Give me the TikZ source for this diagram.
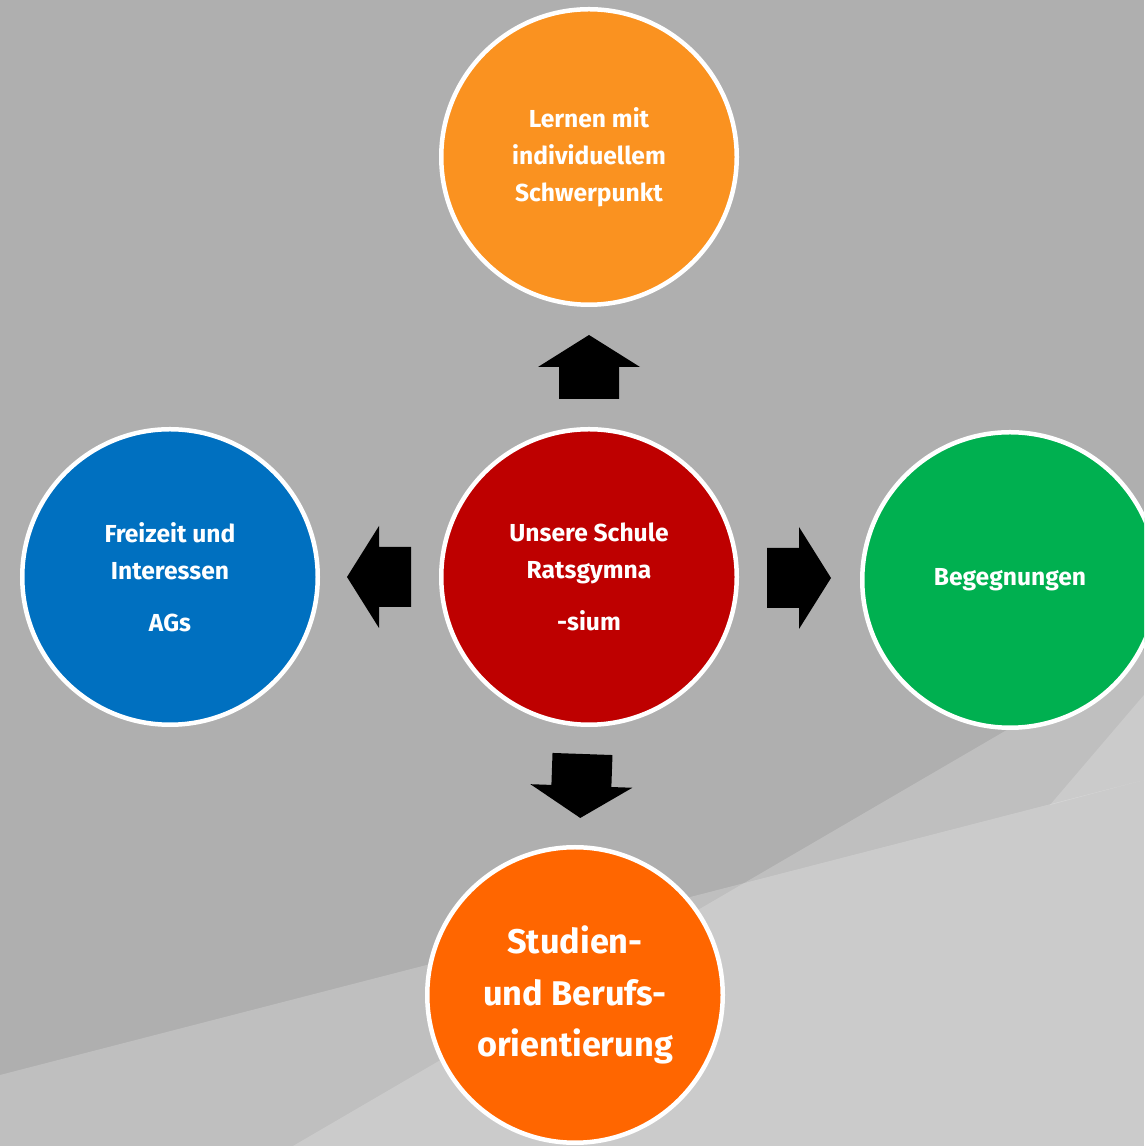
\documentclass[tikz,border=0pt]{standalone}
\usepackage{fontspec}
\setmainfont{Fira Sans}
\usepackage{tikz}
\usetikzlibrary{calc}
\definecolor{bggray}{HTML}{AFAFAF}
\definecolor{lernorange}{HTML}{FA9220}
\definecolor{schulrot}{HTML}{BE0000}
\definecolor{freiblau}{HTML}{0070C0}
\definecolor{beggruen}{HTML}{00B050}
\definecolor{studorange}{HTML}{FF6600}
\tikzset{
	bubble/.style={circle, draw=white, line width=0.09cm, minimum size=5.91cm, inner sep=0pt, text=white, align=center, font=\bfseries\fontsize{14}{21}\selectfont},
	bigbubble/.style={bubble, font=\bfseries\fontsize{19.5}{29.5}\selectfont}
}
\tikzstyle{lighter}=[fill=white, opacity=0.2]
\newcommand{\blockArrow}[2]{
	\fill[black, shift={#1}, rotate=#2] (0,-0.6) -- (0.64,-0.6) -- (0.64,-1.02) -- (1.28,0) -- (0.64,1.02) -- (0.64,0.6) -- (0,0.6) -- cycle;
}

\begin{document}
\begin{tikzpicture}
	\clip (0,0) rectangle (22.88,22.92);
	\fill[bggray] (0,0) rectangle (22.88,22.92);
	\fill[lighter] (0,1.42) -- (22.88,7.32) -- (22.88,0) -- (0,0) -- cycle;
	\fill[lighter] (5.86,0) -- (22.88,9.92) -- (22.88,0) -- cycle;
	\fill[lighter] (21.0,6.82) -- (22.88,9.02) -- (22.88,7.32) -- cycle;

	\node[bubble, fill=schulrot] (ctr) at (11.78,11.38) {Unsere Schule\\Ratsgymna\\[0.3cm]-sium};
	\node[bubble, fill=lernorange] (lernen) at (11.78,19.78) {Lernen mit\\individuellem\\Schwerpunkt};
	\node[bubble, fill=freiblau] (freizeit) at (3.40,11.38) {Freizeit und\\Interessen\\[0.3cm]AGs};
	\node[bubble, fill=beggruen] (begegnung) at (20.20,11.32) {Begegnungen};
	\node[bigbubble, fill=studorange] (studien) at (11.50,3.02) {Studien-\\und Berufs-\\orientierung};

	\blockArrow{($(ctr.north)+(0,0.56)$)}{90}
	\blockArrow{($(ctr.west)+(-0.56,0)$)}{180}
	\blockArrow{($(ctr.east)+(0.56,-0.02)$)}{0}
	\blockArrow{($(ctr.south)+(-0.13,-0.54)$)}{-92}
\end{tikzpicture}
\end{document}
